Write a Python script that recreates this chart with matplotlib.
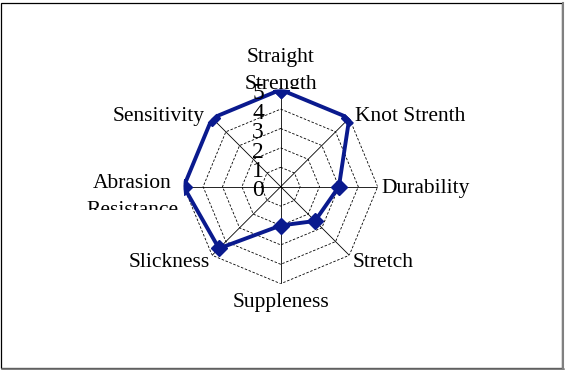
import numpy as np
import matplotlib
matplotlib.use("Agg")
import matplotlib.pyplot as plt
from matplotlib.transforms import Bbox, offset_copy
from matplotlib.patches import Rectangle
from matplotlib.lines import Line2D

categories = ["Straight\nStrength", "Knot Strenth", "Durability", "Stretch",
              "Suppleness", "Slickness", "Abrasion\nResistance", "Sensitivity"]
values = [5, 5, 3, 2.5, 2, 4.5, 5, 5]
rings = [1, 2, 3, 4, 5]
tick_labels = ["0", "1", "2", "3", "4", "5"]

plt.rcParams['font.family'] = ['Liberation Serif', 'DejaVu Serif']

W, H = 565, 370
fig = plt.figure(figsize=(W / 100, H / 100), dpi=100)

# polar axes placed so the centre sits at ~(281, 187) px and r=5 -> 97 px
cx, cy, rad = 280.7, 186.7, 97
ax = fig.add_axes([(cx - rad) / W, (H - cy - rad) / H, 2 * rad / W, 2 * rad / H],
                  projection='polar')
ax.set_theta_offset(np.pi / 2)
ax.set_theta_direction(-1)
ax.set_ylim(0, 5)
ax.grid(False)
ax.set_xticks([])
ax.set_yticks([])
ax.spines['polar'].set_visible(False)
ax.patch.set_visible(False)

n = len(categories)
angles = np.arange(n) * 2 * np.pi / n
closed = np.append(angles, angles[0])

# dashed octagon rings
for r in rings:
    ax.plot(closed, [r] * (n + 1), color='black', lw=0.6, ls=(0, (3, 2)), zorder=1)
# spokes
for a in angles:
    ax.plot([a, a], [0, 5], color='black', lw=0.6, zorder=1)

# data
ax.plot(closed, values + values[:1], color='#0a1a8e', lw=2.8, marker='D',
        markersize=8.5, zorder=3)

# radial tick labels along the top spoke
tr = offset_copy(ax.transData, fig=fig, x=-12, y=-3, units='points')
for i, lab in enumerate(tick_labels):
    ax.text(0, i, lab, transform=tr, ha='right', va='center', fontsize=17, zorder=4)

# category labels: (dx px, dy px down, ha, va, clip bottom px from top)
label_pos = [
    (0, -19, 'center', 'center', 89),
    (6, -2, 'left', 'center', None),
    (4, 2, 'left', 'center', None),
    (3, 7, 'left', 'center', None),
    (0, 19, 'center', 'center', None),
    (-2, 7, 'right', 'center', None),
    (-5, 10, 'right', 'center', 210),
    (-7, -2, 'right', 'center', None),
]
for a, lab, (dx, dy, ha, va, clip) in zip(angles, categories, label_pos):
    t = offset_copy(ax.transData, fig=fig, x=dx * 0.72, y=-dy * 0.72, units='points')
    txt = ax.text(a, 5, lab, transform=t, ha=ha, va=va, fontsize=15.5,
                  multialignment='center', linespacing=1.55)
    if clip is not None:
        txt.set_clip_box(Bbox.from_extents(0, H - clip, W, H))
        txt.set_clip_on(True)
    else:
        txt.set_clip_on(False)

# outer frame with a grey shadow on right/bottom
fig.patches.append(Rectangle((1 / W, 2 / H), 561 / W, 365 / H, transform=fig.transFigure,
                             fill=False, edgecolor='black', lw=0.9))
fig.lines.append(Line2D([563 / W, 563 / W], [1 / H, 367 / H], transform=fig.transFigure,
                        color='#808080', lw=1.5))
fig.lines.append(Line2D([2 / W, 563 / W], [1 / H, 1 / H], transform=fig.transFigure,
                        color='#808080', lw=1.8))

fig.savefig("out.png", dpi=100)
